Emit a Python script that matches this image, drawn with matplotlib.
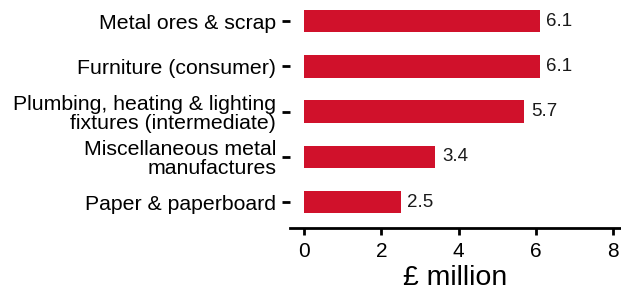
import numpy as np
import matplotlib.pyplot as plt

plt.rcParams['font.family'] = ['Liberation Sans', 'DejaVu Sans']

# Data, bottom to top
categories = ["Paper & paperboard",
              "Miscellaneous metal\nmanufactures",
              "Plumbing, heating & lighting\nfixtures (intermediate)",
              "Furniture (consumer)",
              "Metal ores & scrap"]
values = [2.5, 3.4, 5.7, 6.1, 6.1]
xticks = [0, 2, 4, 6, 8]

fig = plt.figure(figsize=(6.21, 2.91), dpi=100)
ax = fig.add_axes([0.467, 0.216, 0.533, 0.784])

y = np.arange(len(categories))
ax.barh(y, values, height=0.5, color='#D0112B')

for yi, v in zip(y, values):
    ax.text(v + 0.17, yi, f"{v}", va='center', ha='left', fontsize=13.5, color='#1a1a1a')

ax.set_yticks(y)
ax.set_yticklabels(categories, fontsize=15.3, linespacing=1.0)
ax.set_xticks(xticks)
ax.set_xticklabels([str(t) for t in xticks], fontsize=15)
ax.set_xlim(-0.36, 8.2)
ax.set_ylim(-0.575, 4.465)

ax.set_xlabel("£ million", fontsize=20.5, labelpad=3)

for s in ['top', 'right', 'left']:
    ax.spines[s].set_visible(False)
ax.spines['bottom'].set_linewidth(2)
ax.tick_params(axis='x', length=5, width=2, pad=5)
ax.tick_params(axis='y', length=6, width=2, pad=4)

fig.savefig('out.png', dpi=100)
